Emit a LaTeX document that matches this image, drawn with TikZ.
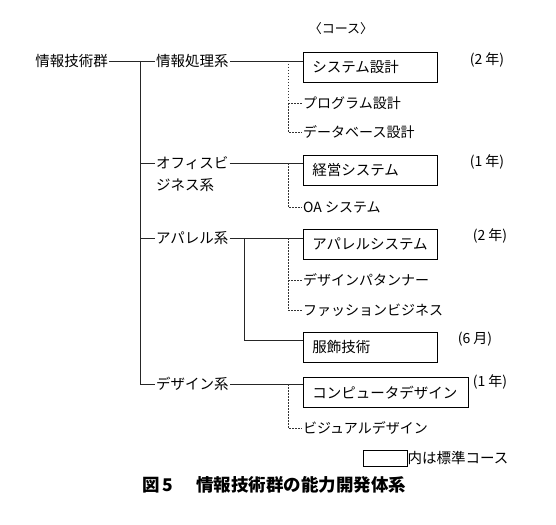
\documentclass[tikz,border=0pt]{standalone}
\usepackage{fontspec}
\setmainfont{Noto Sans CJK JP}
\usepackage{tikz}
\usetikzlibrary{positioning}

\begin{document}
\begin{tikzpicture}[x=1pt, y=-1pt,
    every node/.style={font=\fontsize{14.5}{17}\selectfont, inner sep=1pt},
    field/.style={anchor=west},
    course/.style={draw, line width=0.7pt, anchor=north west, inner xsep=9pt,
      text width=116pt, minimum height=30pt, align=left},
    option/.style={anchor=west, font=\fontsize{14}{16}\selectfont},
    span/.style={font=\fontsize{14}{16}\selectfont},
    solid line/.style={line width=0.7pt, black!85},
    dots/.style={line width=0.6pt, black!80, dash pattern=on 1.5pt off 1.5pt}]
      \useasboundingbox (0,0) rectangle (556,524);
      % group and fields
      \node[field, anchor=east] (root) at (109,61) {情報技術群};
      \node[field] (info) at (155,61) {情報処理系};
      \node[field] (office) at (155,163) {オフィスビ};
      \node[field] (office2) at (155,185) {ジネス系};
      \node[field] (apparel) at (155,238) {アパレル系};
      \node[field] (design) at (155,384) {デザイン系};
      \coordinate (trunk) at (140,61);
      \coordinate (sub) at (288,0);
      \coordinate (fork) at (244,238);
      % courses
      \node[font=\fontsize{13}{15}\selectfont] (head) at (341,29) {〈コース〉};
      \node[course] (sysdesign) at (303,52) {システム設計};
      \node[course] (mgmt) at (303,155) {経営システム};
      \node[course] (appsys) at (303,229) {アパレルシステム};
      \node[course] (dress) at (303,332) {服飾技術};
      \node[course, text width=147pt] (compdesign) at (303,377) {コンピュータデザイン};
      \node[option] (prog) at (302,103) {プログラム設計};
      \node[option] (db) at (302,132) {データベース設計};
      \node[option] (oa) at (302,207) {OA システム};
      \node[option] (pattern) at (302,280) {デザインパタンナー};
      \node[option] (fashion) at (302,310) {ファッションビジネス};
      \node[option] (visual) at (302,428) {ビジュアルデザイン};
      % periods
      \node[span] (p1) at (487,60) {(2 年)};
      \node[span] (p2) at (487,162) {(1 年)};
      \node[span] (p3) at (490,236) {(2 年)};
      \node[span] (p4) at (475,339) {(6 月)};
      \node[span] (p5) at (490,382) {(1 年)};
      % solid connectors
      \draw[solid line] (root) -- (info);
      \draw[solid line] (trunk) |- (design);
      \draw[solid line] (trunk |- office) -- (office);
      \draw[solid line] (trunk |- apparel) -- (apparel);
      \draw[solid line] (info) -- (info -| sysdesign.west);
      \draw[solid line] (office) -- (office -| mgmt.west);
      \draw[solid line] (apparel) -- (apparel -| appsys.west);
      \draw[solid line] (fork) |- ([yshift=-8pt]dress.north west);
      \draw[solid line] (design) -- (design -| compdesign.west);
      % dotted connectors
      \draw[dots] (info -| sub) |- (db);
      \draw[dots] (prog -| sub) -- (prog);
      \draw[dots] (office -| sub) |- (oa);
      \draw[dots] (apparel -| sub) |- (fashion);
      \draw[dots] (pattern -| sub) -- (pattern);
      \draw[dots] (design -| sub) |- (visual);
      % key and caption
      \node[draw, line width=0.6pt, minimum width=44pt, minimum height=16pt, inner sep=0pt] (key) at (385,458) {};
      \node[anchor=west, inner sep=0pt, font=\fontsize{14.5}{17}\selectfont] (keytext) at (key.east) {内は標準コース};
      \node[anchor=west, font=\fontsize{17.5}{20}\selectfont\bfseries] (caption) at (141,485) {図\,5\hspace{1.3em}情報技術群の能力開発体系};
\end{tikzpicture}
\end{document}
